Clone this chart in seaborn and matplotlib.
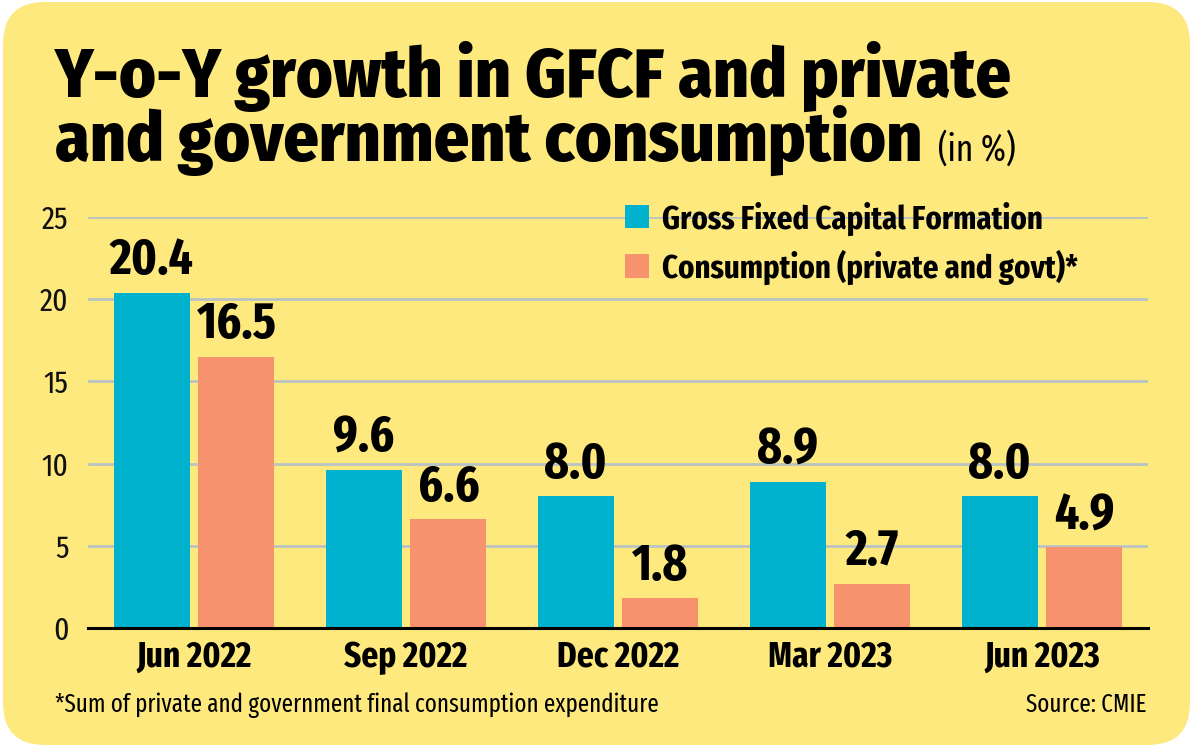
import matplotlib
matplotlib.use("Agg")
import matplotlib.pyplot as plt
from matplotlib.patches import FancyBboxPatch
import seaborn as sns
import pandas as pd

quarters = ["Jun 2022", "Sep 2022", "Dec 2022", "Mar 2023", "Jun 2023"]
gfcf = [20.4, 9.6, 8.0, 8.9, 8.0]
consumption = [16.5, 6.6, 1.8, 2.7, 4.9]
series_names = ["Gross Fixed Capital Formation", "Consumption (private and govt)*"]
yticks = [0, 5, 10, 15, 20, 25]

BLUE = "#00b2cd"
ORANGE = "#f7926e"
YELLOW = "#fee97f"
GRID = "#b9c3c4"

df = pd.DataFrame({
    "quarter": quarters * 2,
    "value": gfcf + consumption,
    "series": [series_names[0]] * len(quarters) + [series_names[1]] * len(quarters),
})

sns.set_theme(style="white")
FONT = ["Fira Sans Extra Condensed", "Fira Sans Condensed", "DejaVu Sans"]
TITLE_FONT = ["Fira Sans Condensed", "Fira Sans Extra Condensed", "DejaVu Sans"]
plt.rcParams["font.family"] = FONT
plt.rcParams["text.color"] = "black"

W, H = 1194, 747
fig = plt.figure(figsize=(W / 100, H / 100), dpi=100)
fig.patch.set_facecolor("white")
card = FancyBboxPatch((0.03, 0.02), W / 100 - 0.07, H / 100 - 0.04,
                      boxstyle="round,pad=0,rounding_size=0.42",
                      transform=fig.dpi_scale_trans, facecolor=YELLOW,
                      edgecolor="none", zorder=-10)
fig.patches.append(card)

def fx(px):
    return px / W

def fy(py):
    return 1 - py / H

ax = fig.add_axes([fx(88), fy(628), fx(1148) - fx(88), fy(217) - fy(628)])
ax.set_facecolor("none")
ax.set_zorder(2)

sns.barplot(data=df, x="quarter", y="value", hue="series", order=quarters,
            hue_order=series_names, palette=[BLUE, ORANGE], width=0.8,
            gap=0.105, errorbar=None, ax=ax, saturation=1, zorder=3,
            linewidth=0, edgecolor="none")

for cont in ax.containers:
    ax.bar_label(cont, fmt="%.1f", padding=5, fontsize=37, fontweight="bold",
                 color="black")

ax.set_xlim(-0.5, len(quarters) - 0.5)
ax.set_ylim(0, 25)
ax.set_yticks(yticks)
ax.set_yticklabels([str(t) for t in yticks])
ax.yaxis.grid(True, color=GRID, linewidth=2, zorder=0)
ax.set_axisbelow(True)
for s in ["top", "right", "left"]:
    ax.spines[s].set_visible(False)
ax.spines["bottom"].set_color("black")
ax.spines["bottom"].set_linewidth(2.2)
ax.spines["bottom"].set_zorder(5)
ax.tick_params(axis="y", length=0, pad=14, labelsize=23, labelcolor="#111111")
ax.tick_params(axis="x", which="major", length=0, pad=8, labelsize=26,
               labelcolor="black")
for lab in ax.get_xticklabels():
    lab.set_fontweight("bold")
ax.set_xticks([i - 0.5 for i in range(len(quarters) + 1)], minor=True)
ax.tick_params(axis="x", which="minor", direction="in", length=7, width=1.5,
               color="black")
ax.set_xlabel("")
ax.set_ylabel("")

handles, labels = ax.get_legend_handles_labels()
leg = ax.legend(handles, labels, loc="upper left",
                bbox_to_anchor=(fx(612), fy(188)), bbox_transform=fig.transFigure,
                frameon=False, handlelength=0.7, handleheight=0.7,
                handletextpad=0.4, labelspacing=0.42, borderaxespad=0,
                labelcolor="black",
                prop={"family": FONT, "weight": "bold", "size": 24})
for h in leg.legend_handles:
    h.set_edgecolor("none")

fig.text(fx(55), fy(97), "Y-o-Y growth in GFCF and private", fontsize=50,
         fontweight="heavy", ha="left", va="baseline", color="black",
         family=TITLE_FONT)
t2 = fig.text(fx(55), fy(161), "and government consumption", fontsize=50,
              fontweight="heavy", ha="left", va="baseline", color="black",
              family=TITLE_FONT)
renderer = fig.canvas.get_renderer()
bb = t2.get_window_extent(renderer=renderer)
fig.text((bb.x1 + 16) / W, fy(161), "(in %)", fontsize=26, ha="left",
         va="baseline", color="black")

fig.text(fx(55), fy(712), "*Sum of private and government final consumption expenditure",
         fontsize=18, ha="left", va="baseline", color="black")
fig.text(fx(1147), fy(712), "Source: CMIE", fontsize=18, ha="right", va="baseline",
         color="black")

fig.savefig("out.png", dpi=100, facecolor="white")
